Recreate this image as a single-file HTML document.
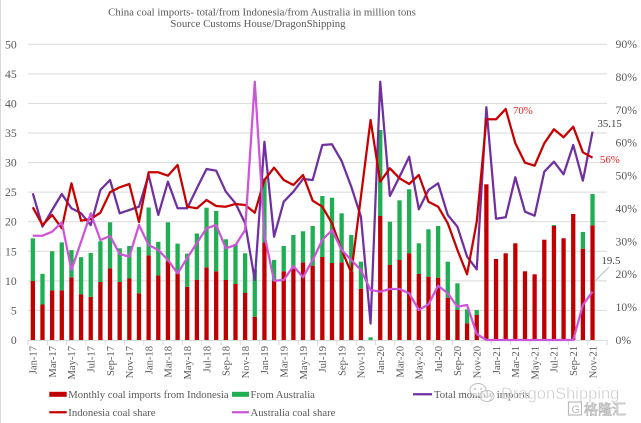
<!DOCTYPE html>
<html><head><meta charset="utf-8"><style>
html,body{margin:0;padding:0;background:#fff;}
svg{display:block;}
text{font-family:"Liberation Serif","Noto Serif CJK SC",serif;}
</style></head><body>
<svg width="641" height="423" viewBox="0 0 641 423" xmlns="http://www.w3.org/2000/svg">
<rect x="0" y="0" width="641" height="423" fill="#fff"/>
<line x1="0.5" y1="0" x2="0.5" y2="423" stroke="#d9d9d9" stroke-width="1"/>
<!-- title -->
<text x="262" y="15.5" font-size="10.8" fill="#595959" text-anchor="middle">China coal imports- total/from Indonesia/from Australia in million tons</text>
<text x="258" y="27" font-size="10.8" fill="#595959" text-anchor="middle">Source Customs House/DragonShipping</text>
<!-- gridlines -->
<g stroke="#d9d9d9" stroke-width="1">
<line x1="28" y1="310.4" x2="607" y2="310.4"/>
<line x1="28" y1="280.9" x2="607" y2="280.9"/>
<line x1="28" y1="251.3" x2="607" y2="251.3"/>
<line x1="28" y1="221.7" x2="607" y2="221.7"/>
<line x1="28" y1="192.1" x2="607" y2="192.1"/>
<line x1="28" y1="162.6" x2="607" y2="162.6"/>
<line x1="28" y1="133.0" x2="607" y2="133.0"/>
<line x1="28" y1="103.4" x2="607" y2="103.4"/>
<line x1="28" y1="73.9" x2="607" y2="73.9"/>
<line x1="28" y1="44.3" x2="607" y2="44.3"/>
</g>
<!-- left axis labels -->
<g font-size="11.7" fill="#595959" text-anchor="end">
<text x="16.7" y="344">0</text>
<text x="16.7" y="314.4">5</text>
<text x="16.7" y="284.9">10</text>
<text x="16.7" y="255.3">15</text>
<text x="16.7" y="225.7">20</text>
<text x="16.7" y="196.1">25</text>
<text x="16.7" y="166.6">30</text>
<text x="16.7" y="137">35</text>
<text x="16.7" y="107.4">40</text>
<text x="16.7" y="77.9">45</text>
<text x="16.7" y="48.3">50</text>
</g>
<!-- right axis labels -->
<g font-size="11.7" fill="#595959">
<text x="615.5" y="344">0%</text>
<text x="615.5" y="311.1">10%</text>
<text x="615.5" y="278.2">20%</text>
<text x="615.5" y="245.3">30%</text>
<text x="615.5" y="212.4">40%</text>
<text x="615.5" y="179.5">50%</text>
<text x="615.5" y="146.7">60%</text>
<text x="615.5" y="113.8">70%</text>
<text x="615.5" y="80.9">80%</text>
<text x="615.5" y="48">90%</text>
</g>
<!-- red bars -->
<g fill="#C00000">
<rect x="30.68" y="281.0" width="4.3" height="59.0"/>
<rect x="40.33" y="304.5" width="4.3" height="35.5"/>
<rect x="49.98" y="290.3" width="4.3" height="49.7"/>
<rect x="59.63" y="290.3" width="4.3" height="49.7"/>
<rect x="69.28" y="277.3" width="4.3" height="62.7"/>
<rect x="78.93" y="294.5" width="4.3" height="45.5"/>
<rect x="88.58" y="296.8" width="4.3" height="43.2"/>
<rect x="98.23" y="282.0" width="4.3" height="58.0"/>
<rect x="107.88" y="268.4" width="4.3" height="71.6"/>
<rect x="117.53" y="282.0" width="4.3" height="58.0"/>
<rect x="127.18" y="278.5" width="4.3" height="61.5"/>
<rect x="136.83" y="293.3" width="4.3" height="46.7"/>
<rect x="146.48" y="255.4" width="4.3" height="84.6"/>
<rect x="156.13" y="275.5" width="4.3" height="64.5"/>
<rect x="165.78" y="261.3" width="4.3" height="78.7"/>
<rect x="175.43" y="273.2" width="4.3" height="66.8"/>
<rect x="185.08" y="286.8" width="4.3" height="53.2"/>
<rect x="194.73" y="279.7" width="4.3" height="60.3"/>
<rect x="204.38" y="267.3" width="4.3" height="72.7"/>
<rect x="214.03" y="271.3" width="4.3" height="68.7"/>
<rect x="223.68" y="280.0" width="4.3" height="60.0"/>
<rect x="233.33" y="284.0" width="4.3" height="56.0"/>
<rect x="242.98" y="293.0" width="4.3" height="47.0"/>
<rect x="252.63" y="316.7" width="4.3" height="23.3"/>
<rect x="262.28" y="242.3" width="4.3" height="97.7"/>
<rect x="271.93" y="280.7" width="4.3" height="59.3"/>
<rect x="281.58" y="271.3" width="4.3" height="68.7"/>
<rect x="291.23" y="268.7" width="4.3" height="71.3"/>
<rect x="300.88" y="262.3" width="4.3" height="77.7"/>
<rect x="310.53" y="265.7" width="4.3" height="74.3"/>
<rect x="320.18" y="257.0" width="4.3" height="83.0"/>
<rect x="329.83" y="263.0" width="4.3" height="77.0"/>
<rect x="339.48" y="262.3" width="4.3" height="77.7"/>
<rect x="349.13" y="272.0" width="4.3" height="68.0"/>
<rect x="358.78" y="288.7" width="4.3" height="51.3"/>
<rect x="378.08" y="216.0" width="4.3" height="124.0"/>
<rect x="387.73" y="265.0" width="4.3" height="75.0"/>
<rect x="397.38" y="260.0" width="4.3" height="80.0"/>
<rect x="407.03" y="253.3" width="4.3" height="86.7"/>
<rect x="416.68" y="274.0" width="4.3" height="66.0"/>
<rect x="426.33" y="276.7" width="4.3" height="63.3"/>
<rect x="435.98" y="277.7" width="4.3" height="62.3"/>
<rect x="445.63" y="297.7" width="4.3" height="42.3"/>
<rect x="455.28" y="310.0" width="4.3" height="30.0"/>
<rect x="464.93" y="323.3" width="4.3" height="16.7"/>
<rect x="474.58" y="315.0" width="4.3" height="25.0"/>
<rect x="484.23" y="184.3" width="4.3" height="155.7"/>
<rect x="493.88" y="259.0" width="4.3" height="81.0"/>
<rect x="503.53" y="253.3" width="4.3" height="86.7"/>
<rect x="513.18" y="243.3" width="4.3" height="96.7"/>
<rect x="522.83" y="271.3" width="4.3" height="68.7"/>
<rect x="532.48" y="274.3" width="4.3" height="65.7"/>
<rect x="542.13" y="239.7" width="4.3" height="100.3"/>
<rect x="551.78" y="226.0" width="4.3" height="114.0"/>
<rect x="561.43" y="238.3" width="4.3" height="101.7"/>
<rect x="571.08" y="214.0" width="4.3" height="126.0"/>
<rect x="580.73" y="248.7" width="4.3" height="91.3"/>
<rect x="590.38" y="225.3" width="4.3" height="114.7"/>
</g>
<!-- green bars -->
<g fill="#1FAF52">
<rect x="30.68" y="238.3" width="4.3" height="42.7"/>
<rect x="40.33" y="273.8" width="4.3" height="30.7"/>
<rect x="49.98" y="251.3" width="4.3" height="39.0"/>
<rect x="59.63" y="242.4" width="4.3" height="47.9"/>
<rect x="69.28" y="250.1" width="4.3" height="27.2"/>
<rect x="78.93" y="257.2" width="4.3" height="37.3"/>
<rect x="88.58" y="253.0" width="4.3" height="43.8"/>
<rect x="98.23" y="241.2" width="4.3" height="40.8"/>
<rect x="107.88" y="222.3" width="4.3" height="46.1"/>
<rect x="117.53" y="248.3" width="4.3" height="33.7"/>
<rect x="127.18" y="246.0" width="4.3" height="32.5"/>
<rect x="136.83" y="247.1" width="4.3" height="46.2"/>
<rect x="146.48" y="207.5" width="4.3" height="47.9"/>
<rect x="156.13" y="241.8" width="4.3" height="33.7"/>
<rect x="165.78" y="222.3" width="4.3" height="39.0"/>
<rect x="175.43" y="243.6" width="4.3" height="29.6"/>
<rect x="185.08" y="253.6" width="4.3" height="33.2"/>
<rect x="194.73" y="233.5" width="4.3" height="46.2"/>
<rect x="204.38" y="207.7" width="4.3" height="59.6"/>
<rect x="214.03" y="211.0" width="4.3" height="60.3"/>
<rect x="223.68" y="239.3" width="4.3" height="40.7"/>
<rect x="233.33" y="244.0" width="4.3" height="40.0"/>
<rect x="242.98" y="253.3" width="4.3" height="39.7"/>
<rect x="252.63" y="269.3" width="4.3" height="47.4"/>
<rect x="262.28" y="178.3" width="4.3" height="64.0"/>
<rect x="271.93" y="260.0" width="4.3" height="20.7"/>
<rect x="281.58" y="246.0" width="4.3" height="25.3"/>
<rect x="291.23" y="235.0" width="4.3" height="33.7"/>
<rect x="300.88" y="231.3" width="4.3" height="31.0"/>
<rect x="310.53" y="226.0" width="4.3" height="39.7"/>
<rect x="320.18" y="196.0" width="4.3" height="61.0"/>
<rect x="329.83" y="197.7" width="4.3" height="65.3"/>
<rect x="339.48" y="213.3" width="4.3" height="49.0"/>
<rect x="349.13" y="235.0" width="4.3" height="37.0"/>
<rect x="358.78" y="261.7" width="4.3" height="27.0"/>
<rect x="368.43" y="337.3" width="4.3" height="2.7"/>
<rect x="378.08" y="130.0" width="4.3" height="86.0"/>
<rect x="387.73" y="221.7" width="4.3" height="43.3"/>
<rect x="397.38" y="200.3" width="4.3" height="59.7"/>
<rect x="407.03" y="189.3" width="4.3" height="64.0"/>
<rect x="416.68" y="243.3" width="4.3" height="30.7"/>
<rect x="426.33" y="229.3" width="4.3" height="47.4"/>
<rect x="435.98" y="226.0" width="4.3" height="51.7"/>
<rect x="445.63" y="261.7" width="4.3" height="36.0"/>
<rect x="455.28" y="283.3" width="4.3" height="26.7"/>
<rect x="464.93" y="309.3" width="4.3" height="14.0"/>
<rect x="474.58" y="310.0" width="4.3" height="5.0"/>
<rect x="551.78" y="225.0" width="4.3" height="1.0"/>
<rect x="580.73" y="232.0" width="4.3" height="16.7"/>
<rect x="590.38" y="194.0" width="4.3" height="31.3"/>
</g>
<!-- x axis -->
<line x1="28" y1="340.5" x2="607" y2="340.5" stroke="#d9d9d9" stroke-width="1"/>
<g stroke="#d9d9d9" stroke-width="1">
<line x1="28" y1="340" x2="28" y2="345"/><line x1="47.3" y1="340" x2="47.3" y2="345"/><line x1="66.6" y1="340" x2="66.6" y2="345"/><line x1="85.9" y1="340" x2="85.9" y2="345"/><line x1="105.2" y1="340" x2="105.2" y2="345"/><line x1="124.5" y1="340" x2="124.5" y2="345"/><line x1="143.8" y1="340" x2="143.8" y2="345"/><line x1="163.1" y1="340" x2="163.1" y2="345"/><line x1="182.4" y1="340" x2="182.4" y2="345"/><line x1="201.7" y1="340" x2="201.7" y2="345"/><line x1="221" y1="340" x2="221" y2="345"/><line x1="240.3" y1="340" x2="240.3" y2="345"/><line x1="259.6" y1="340" x2="259.6" y2="345"/><line x1="278.9" y1="340" x2="278.9" y2="345"/><line x1="298.2" y1="340" x2="298.2" y2="345"/><line x1="317.5" y1="340" x2="317.5" y2="345"/><line x1="336.8" y1="340" x2="336.8" y2="345"/><line x1="356.1" y1="340" x2="356.1" y2="345"/><line x1="375.4" y1="340" x2="375.4" y2="345"/><line x1="394.7" y1="340" x2="394.7" y2="345"/><line x1="414" y1="340" x2="414" y2="345"/><line x1="433.3" y1="340" x2="433.3" y2="345"/><line x1="452.6" y1="340" x2="452.6" y2="345"/><line x1="471.9" y1="340" x2="471.9" y2="345"/><line x1="491.2" y1="340" x2="491.2" y2="345"/><line x1="510.5" y1="340" x2="510.5" y2="345"/><line x1="529.8" y1="340" x2="529.8" y2="345"/><line x1="549.1" y1="340" x2="549.1" y2="345"/><line x1="568.4" y1="340" x2="568.4" y2="345"/><line x1="587.7" y1="340" x2="587.7" y2="345"/><line x1="607" y1="340" x2="607" y2="345"/>
</g>
<!-- lines -->
<polyline fill="none" stroke="#7030A0" stroke-width="2.25" stroke-linejoin="round" points="32.83,193.3 42.48,226.7 52.13,210.0 61.78,194.0 71.43,208.3 81.08,213.3 90.73,225.0 100.38,190.0 110.03,180.0 119.68,213.3 129.33,210.0 138.98,206.7 148.63,175.0 158.28,215.0 167.93,181.7 177.58,208.3 187.23,208.3 196.88,188.3 206.53,169.0 216.18,170.7 225.83,191.7 235.48,203.3 245.13,223.3 254.78,280.0 264.43,141.7 274.08,236.7 283.73,201.7 293.38,191.7 303.03,179.0 312.68,180.0 322.33,145.0 331.98,144.3 341.63,161.0 351.28,186.7 360.93,216.7 370.58,323.5 380.23,81.7 389.88,196.0 399.53,176.7 409.18,156.7 418.83,209.3 428.48,190.0 438.13,183.3 447.78,215.0 457.43,226.7 467.08,256.7 476.73,269.3 486.38,107.3 496.03,218.7 505.68,217.3 515.33,177.3 524.98,211.7 534.63,215.7 544.28,171.7 553.93,161.7 563.58,174.3 573.23,145.0 582.88,180.7 592.53,131.7"/>
<polyline fill="none" stroke="#C80000" stroke-width="2.25" stroke-linejoin="round" points="32.83,207.3 42.48,225.0 52.13,215.0 61.78,228.3 71.43,183.3 81.08,220.7 90.73,219.0 100.38,212.7 110.03,192.3 119.68,187.3 129.33,184.0 138.98,222.0 148.63,172.3 158.28,172.3 167.93,175.7 177.58,165.0 187.23,206.7 196.88,208.3 206.53,200.0 216.18,206.0 225.83,206.7 235.48,204.0 245.13,205.0 254.78,212.7 264.43,180.0 274.08,167.7 283.73,180.0 293.38,185.0 303.03,175.0 312.68,200.7 322.33,206.7 331.98,223.3 341.63,250.0 351.28,272.7 360.93,196.7 370.58,120.0 380.23,181.7 389.88,168.3 399.53,178.3 409.18,184.0 418.83,175.0 428.48,201.7 438.13,206.7 447.78,223.3 457.43,250.0 467.08,274.3 476.73,221.7 486.38,119.3 496.03,119.3 505.68,109.0 515.33,143.3 524.98,162.7 534.63,165.7 544.28,143.3 553.93,129.3 563.58,137.3 573.23,126.7 582.88,152.3 592.53,157.7"/>
<polyline fill="none" stroke="#CC55D8" stroke-width="2.25" stroke-linejoin="round" points="32.83,235.7 42.48,235.7 52.13,231.7 61.78,222.3 71.43,270.0 81.08,241.7 90.73,213.3 100.38,240.0 110.03,236.0 119.68,254.0 129.33,256.7 138.98,225.0 148.63,245.0 158.28,250.0 167.93,260.0 177.58,273.3 187.23,258.0 196.88,243.0 206.53,228.3 216.18,225.0 225.83,248.3 235.48,245.0 245.13,230.0 254.78,81.7 264.43,235.0 274.08,280.7 283.73,280.0 293.38,266.0 303.03,277.3 312.68,260.0 322.33,240.0 331.98,230.0 341.63,250.0 351.28,260.0 360.93,270.0 370.58,290.0 380.23,291.7 389.88,289.0 399.53,289.0 409.18,293.3 418.83,310.0 428.48,304.3 438.13,285.7 447.78,293.3 457.43,306.7 467.08,305.0 476.73,334.0 486.38,340.0 496.03,340 505.68,340 515.33,340 524.98,340 534.63,340 544.28,340 553.93,340 563.58,340 573.23,340 582.88,305.0 592.53,291.7"/>
<!-- annotations -->
<text x="513" y="114" font-size="10.8" fill="#EE2222">70%</text>
<text x="600" y="163" font-size="10.8" fill="#EE2222">56%</text>
<text x="597.5" y="127" font-size="10.8" fill="#404040">35.15</text>
<text x="601.5" y="264" font-size="10.8" fill="#404040">19.5</text>
<line x1="595.5" y1="280.5" x2="609" y2="267" stroke="#a6a6a6" stroke-width="0.75"/>
<!-- x labels -->
<g font-size="10.6" fill="#595959" text-anchor="end">
<text transform="translate(36.6,346) rotate(-90)">Jan-17</text>
<text transform="translate(55.9,346) rotate(-90)">Mar-17</text>
<text transform="translate(75.2,346) rotate(-90)">May-17</text>
<text transform="translate(94.5,346) rotate(-90)">Jul-17</text>
<text transform="translate(113.8,346) rotate(-90)">Sep-17</text>
<text transform="translate(133.1,346) rotate(-90)">Nov-17</text>
<text transform="translate(152.4,346) rotate(-90)">Jan-18</text>
<text transform="translate(171.7,346) rotate(-90)">Mar-18</text>
<text transform="translate(191,346) rotate(-90)">May-18</text>
<text transform="translate(210.3,346) rotate(-90)">Jul-18</text>
<text transform="translate(229.6,346) rotate(-90)">Sep-18</text>
<text transform="translate(248.9,346) rotate(-90)">Nov-18</text>
<text transform="translate(268.2,346) rotate(-90)">Jan-19</text>
<text transform="translate(287.5,346) rotate(-90)">Mar-19</text>
<text transform="translate(306.8,346) rotate(-90)">May-19</text>
<text transform="translate(326.1,346) rotate(-90)">Jul-19</text>
<text transform="translate(345.4,346) rotate(-90)">Sep-19</text>
<text transform="translate(364.7,346) rotate(-90)">Nov-19</text>
<text transform="translate(384,346) rotate(-90)">Jan-20</text>
<text transform="translate(403.3,346) rotate(-90)">Mar-20</text>
<text transform="translate(422.6,346) rotate(-90)">May-20</text>
<text transform="translate(441.9,346) rotate(-90)">Jul-20</text>
<text transform="translate(461.2,346) rotate(-90)">Sep-20</text>
<text transform="translate(480.5,346) rotate(-90)">Nov-20</text>
<text transform="translate(499.8,346) rotate(-90)">Jan-21</text>
<text transform="translate(519.1,346) rotate(-90)">Mar-21</text>
<text transform="translate(538.4,346) rotate(-90)">May-21</text>
<text transform="translate(557.7,346) rotate(-90)">Jul-21</text>
<text transform="translate(577,346) rotate(-90)">Sep-21</text>
<text transform="translate(596.3,346) rotate(-90)">Nov-21</text>
</g>
<!-- legend -->
<rect x="49.3" y="391.8" width="17.4" height="5" fill="#C00000"/>
<text x="68.3" y="397.8" font-size="10.7" fill="#595959">Monthly coal imports from Indonesia</text>
<rect x="232" y="391.8" width="17" height="5" fill="#1FAF52"/>
<text x="250.5" y="397.8" font-size="10.7" fill="#595959">From Australia</text>
<line x1="413" y1="394.3" x2="432" y2="394.3" stroke="#7030A0" stroke-width="2.25"/>
<text x="434" y="397.8" font-size="10.7" fill="#595959">Total monthly imports</text>
<line x1="49.3" y1="412.3" x2="66.7" y2="412.3" stroke="#C80000" stroke-width="2.25"/>
<text x="68.3" y="415.8" font-size="10.7" fill="#595959">Indonesia coal share</text>
<line x1="232" y1="412.3" x2="249" y2="412.3" stroke="#CC55D8" stroke-width="2.25"/>
<text x="250.5" y="415.8" font-size="10.7" fill="#595959">Australia coal share</text>
<!-- watermark -->
<g opacity="0.85">
<ellipse cx="478" cy="390" rx="8" ry="6.5" fill="#fff" fill-opacity="0.7" stroke="#b5b5b5" stroke-width="1"/>
<ellipse cx="487" cy="396" rx="7" ry="5.5" fill="#fff" fill-opacity="0.7" stroke="#b5b5b5" stroke-width="1"/>
<circle cx="475" cy="389" r="0.9" fill="#aaa"/><circle cx="481" cy="389" r="0.9" fill="#aaa"/>
<circle cx="485" cy="396" r="0.8" fill="#aaa"/><circle cx="489" cy="396" r="0.8" fill="#aaa"/>
<text x="501" y="399" font-size="16.5" fill="#c4c4c4" stroke="#fff" stroke-width="0.4" style="font-family:'Liberation Sans',sans-serif">DragonShipping</text>
<rect x="568.5" y="402" width="13" height="13" fill="none" stroke="#b0b0b0" stroke-width="1.2"/>
<text x="571.5" y="413" font-size="11" fill="#b0b0b0" style="font-family:'Liberation Sans',sans-serif">G</text>
<text x="584" y="414.5" font-size="14" fill="#fff" stroke="#a8a8a8" stroke-width="0.7" style="font-family:'Liberation Sans','Noto Sans CJK SC',sans-serif">格隆汇</text>
</g>
</svg>
</body></html>
